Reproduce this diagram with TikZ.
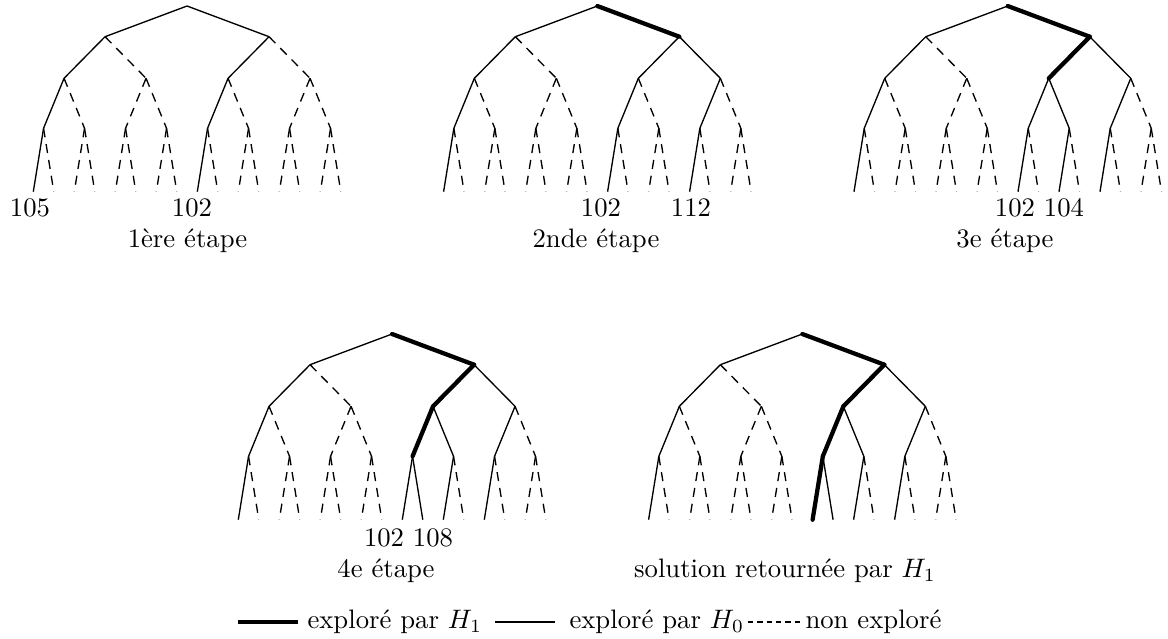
\documentclass[tikz,border=0pt]{standalone}
\usepackage{fontspec}
\tikzset{
  solidedge/.style={line width=0.5pt, solid},
  dashededge/.style={line width=0.5pt, dash pattern=on 3.4pt off 2.6pt},
  thickedge/.style={line width=1.6pt, solid, line cap=round},
  lab/.style={inner sep=0pt, font=\normalsize},
}
% build tree coordinates: #1 name, #2 x of leftmost leaf, #3 y offset
\newcommand\mktree[3]{%
  \foreach \d/\yy in {0/6,1/36.7,2/78.3,3/128.3,4/191.7}{%
    \pgfmathtruncatemacro\nn{2^\d-1}%
    \foreach \k in {0,...,\nn}{%
      \pgfmathsetmacro\xx{#2+20.5*((\k+0.5)*2^(4-\d)-0.5)}%
      \coordinate (#1-\d-\k) at (\xx,#3+\yy);
    }%
  }%
}
% draw edges of tree #1; style key #1e-d-k if defined, else dashed
\newcommand\drawedges[1]{%
  \foreach \d in {1,...,4}{%
    \pgfmathtruncatemacro\nn{2^\d-1}%
    \pgfmathtruncatemacro\pd{\d-1}%
    \foreach \k in {0,...,\nn}{%
      \pgfmathtruncatemacro\pk{div(\k,2)}%
      \draw[dashededge, #1e-\d-\k/.try] (#1-\pd-\pk) -- (#1-\d-\k);
    }%
  }%
}
\tikzset{
  % tree A : 1ere etape
  Ae-1-0/.style=solidedge, Ae-1-1/.style=solidedge, Ae-2-0/.style=solidedge,
  Ae-2-2/.style=solidedge, Ae-3-0/.style=solidedge, Ae-3-4/.style=solidedge,
  Ae-4-0/.style=solidedge, Ae-4-8/.style=solidedge,
  % tree B : 2nde etape
  Be-1-1/.style=thickedge,
  Be-1-0/.style=solidedge, Be-2-0/.style=solidedge, Be-2-2/.style=solidedge,
  Be-2-3/.style=solidedge, Be-3-0/.style=solidedge, Be-3-4/.style=solidedge,
  Be-3-6/.style=solidedge, Be-4-0/.style=solidedge, Be-4-8/.style=solidedge,
  Be-4-12/.style=solidedge,
  % tree C : 3e etape
  Ce-1-1/.style=thickedge, Ce-2-2/.style=thickedge,
  Ce-1-0/.style=solidedge, Ce-2-0/.style=solidedge, Ce-2-3/.style=solidedge,
  Ce-3-0/.style=solidedge, Ce-3-4/.style=solidedge, Ce-3-5/.style=solidedge,
  Ce-3-6/.style=solidedge, Ce-4-0/.style=solidedge, Ce-4-8/.style=solidedge,
  Ce-4-10/.style=solidedge, Ce-4-12/.style=solidedge,
  % tree D : 4e etape
  De-1-1/.style=thickedge, De-2-2/.style=thickedge, De-3-4/.style=thickedge,
  De-1-0/.style=solidedge, De-2-0/.style=solidedge, De-2-3/.style=solidedge,
  De-3-0/.style=solidedge, De-3-5/.style=solidedge, De-3-6/.style=solidedge,
  De-4-0/.style=solidedge, De-4-8/.style=solidedge, De-4-9/.style=solidedge,
  De-4-10/.style=solidedge, De-4-12/.style=solidedge,
  % tree E : solution
  Ee-1-1/.style=thickedge, Ee-2-2/.style=thickedge, Ee-3-4/.style=thickedge,
  Ee-4-8/.style=thickedge,
  Ee-1-0/.style=solidedge, Ee-2-0/.style=solidedge, Ee-2-3/.style=solidedge,
  Ee-3-0/.style=solidedge, Ee-3-5/.style=solidedge, Ee-3-6/.style=solidedge,
  Ee-4-0/.style=solidedge, Ee-4-9/.style=solidedge, Ee-4-10/.style=solidedge,
  Ee-4-12/.style=solidedge,
}
\begin{document}
\begin{tikzpicture}[x=0.3745pt, y=-0.3745pt]
\useasboundingbox (0,0) rectangle (1168,638);
\mktree{A}{33.3}{0}
\mktree{B}{443.6}{0}
\mktree{C}{854}{0}
\mktree{D}{238.3}{328}
\mktree{E}{648.6}{328}
\drawedges{A}
\drawedges{B}
\drawedges{C}
\drawedges{D}
\drawedges{E}
% leaf labels
\node[lab] (a105) at (30,208) {105};
\node[lab] (a102) at (192,208) {102};
\node[lab] (b102) at (601,208) {102};
\node[lab] (b112) at (691,208) {112};
\node[lab] (c102) at (1015,208) {102};
\node[lab] (c104) at (1064,208) {104};
\node[lab] (d102) at (408.5,538) {102 108};
% captions
\node[lab] (capA) at (187.5,241) {1ère étape};
\node[lab] (capB) at (596,241) {2nde étape};
\node[lab] (capC) at (1005,241) {3e étape};
\node[lab] (capD) at (386,571) {4e étape};
\node[lab] (capE) at (785,571) {solution retournée par $H_1$};
% legend
\coordinate (k1a) at (238,622);
\coordinate (k1b) at (298,622);
\node[lab, anchor=west] (l1) at (307,622) {exploré par $H_1$};
\coordinate (k2a) at (495,622);
\coordinate (k2b) at (555,622);
\node[lab, anchor=west] (l2) at (569,622) {exploré par $H_0$};
\coordinate (k3a) at (748,622);
\coordinate (k3b) at (800,622);
\node[lab, anchor=west] (l3) at (805,622) {non exploré};
\draw[line width=1.8pt] (k1a) -- (k1b);
\draw[solidedge] (k2a) -- (k2b);
\draw[line width=0.5pt, dash pattern=on 2pt off 1.5pt] (k3a) -- (k3b);
\end{tikzpicture}
\end{document}
